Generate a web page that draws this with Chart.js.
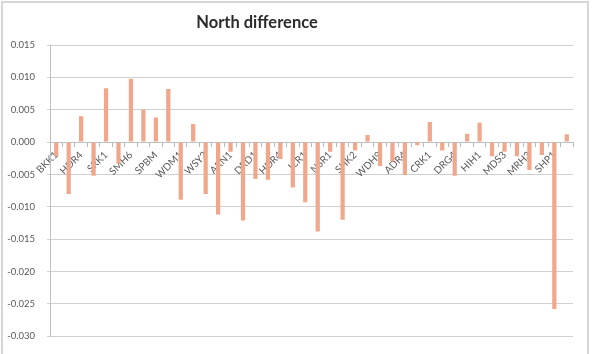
<!DOCTYPE html>
<html>
<head>
<meta charset="utf-8">
<script src="https://cdn.jsdelivr.net/npm/chart.js@4"></script>
<style>
  html, body { margin: 0; padding: 0; background: #fff; }
  #wrap { position: relative; width: 599px; height: 354px; }
  #frame { position: absolute; left: 1px; top: 1px; width: 588px; height: 360px; border: 2px solid #d6d6d6; box-sizing: border-box; }
  #northChart { position: absolute; left: 0; top: 0; }
</style>
</head>
<body>
<div id="wrap">
  <div id="frame"></div>
  <canvas id="northChart" width="599" height="354"></canvas>
</div>
<script>
// every other station name is hidden on the axis in the source chart
const stations = [
  "BKK1", "", "HDR4", "", "SRK1", "", "SMH6", "", "SPBM", "",
  "WDM1", "", "WSY2", "", "ARN1", "", "DRD1", "", "HDR4", "",
  "JCR1", "", "NSR1", "", "SHK2", "", "WDH9", "", "ADR4", "",
  "CRK1", "", "DRG4", "", "HIH1", "", "MDS3", "", "MRH3", "",
  "SHP1", ""
];

const northDiff = [
  -0.0022, -0.0080, 0.0040, -0.0052, 0.0083, -0.0033, 0.0098, 0.0050, 0.0038, 0.0082,
  -0.0089, 0.0028, -0.0080, -0.0112, -0.0015, -0.0121, -0.0057, -0.0058, -0.0026, -0.0070,
  -0.0093, -0.0138, -0.0015, -0.0120, -0.0013, 0.0011, -0.0037, -0.0030, -0.0051, -0.0005,
  0.0031, -0.0013, -0.0052, 0.0013, 0.0030, -0.0022, -0.0015, -0.0022, -0.0043, -0.0020,
  -0.0258, 0.0012
];

const yMin = -0.030;
const yMax = 0.015;
const yStep = 0.005;

const chartTitle = "North difference";

const titlePlugin = {
  id: "sideTitle",
  afterDraw(chart) {
    const ctx = chart.ctx;
    ctx.save();
    ctx.font = "bold 16.5px Lato, 'Open Sans', sans-serif";
    ctx.fillStyle = "#2b2b2b";
    ctx.textAlign = "center";
    ctx.textBaseline = "alphabetic";
    ctx.fillText(chartTitle, 257, 28);
    ctx.restore();
  }
};

const axisText = "#595959";

new Chart(document.getElementById("northChart"), {
  type: "bar",
  data: {
    labels: stations,
    datasets: [
      {
        label: chartTitle,
        data: northDiff,
        backgroundColor: "#f0a78c",
        borderWidth: 0,
        barPercentage: 0.34,
        categoryPercentage: 1
      }
    ]
  },
  options: {
    responsive: false,
    animation: false,
    layout: { padding: { left: 0, right: 26, top: 45, bottom: 9 } },
    plugins: {
      legend: { display: false },
      tooltip: { enabled: false },
      title: { display: false }
    },
    scales: {
      x: {
        position: { y: 0 },
        grid: {
          drawOnChartArea: false,
          drawTicks: true,
          tickLength: 4,
          color: "#a9bcd4",
          offset: true
        },
        border: { display: true, color: "#bfbfbf", width: 1 },
        ticks: {
          autoSkip: false,
          maxRotation: 45,
          minRotation: 45,
          padding: 3,
          color: axisText,
          font: { family: "Lato, 'Open Sans', sans-serif", size: 10 }
        }
      },
      y: {
        min: yMin,
        max: yMax,
        afterFit(scale) { scale.width = 50; },
        grid: { color: "#d0d0d0", tickLength: 3, lineWidth: 1 },
        border: { display: true, color: "#bfbfbf", width: 1 },
        ticks: {
          stepSize: yStep,
          padding: 12,
          color: axisText,
          font: { family: "Lato, 'Open Sans', sans-serif", size: 9.5 },
          callback: (value) => Number(value).toFixed(3)
        }
      }
    }
  },
  plugins: [titlePlugin]
});
</script>
</body>
</html>
